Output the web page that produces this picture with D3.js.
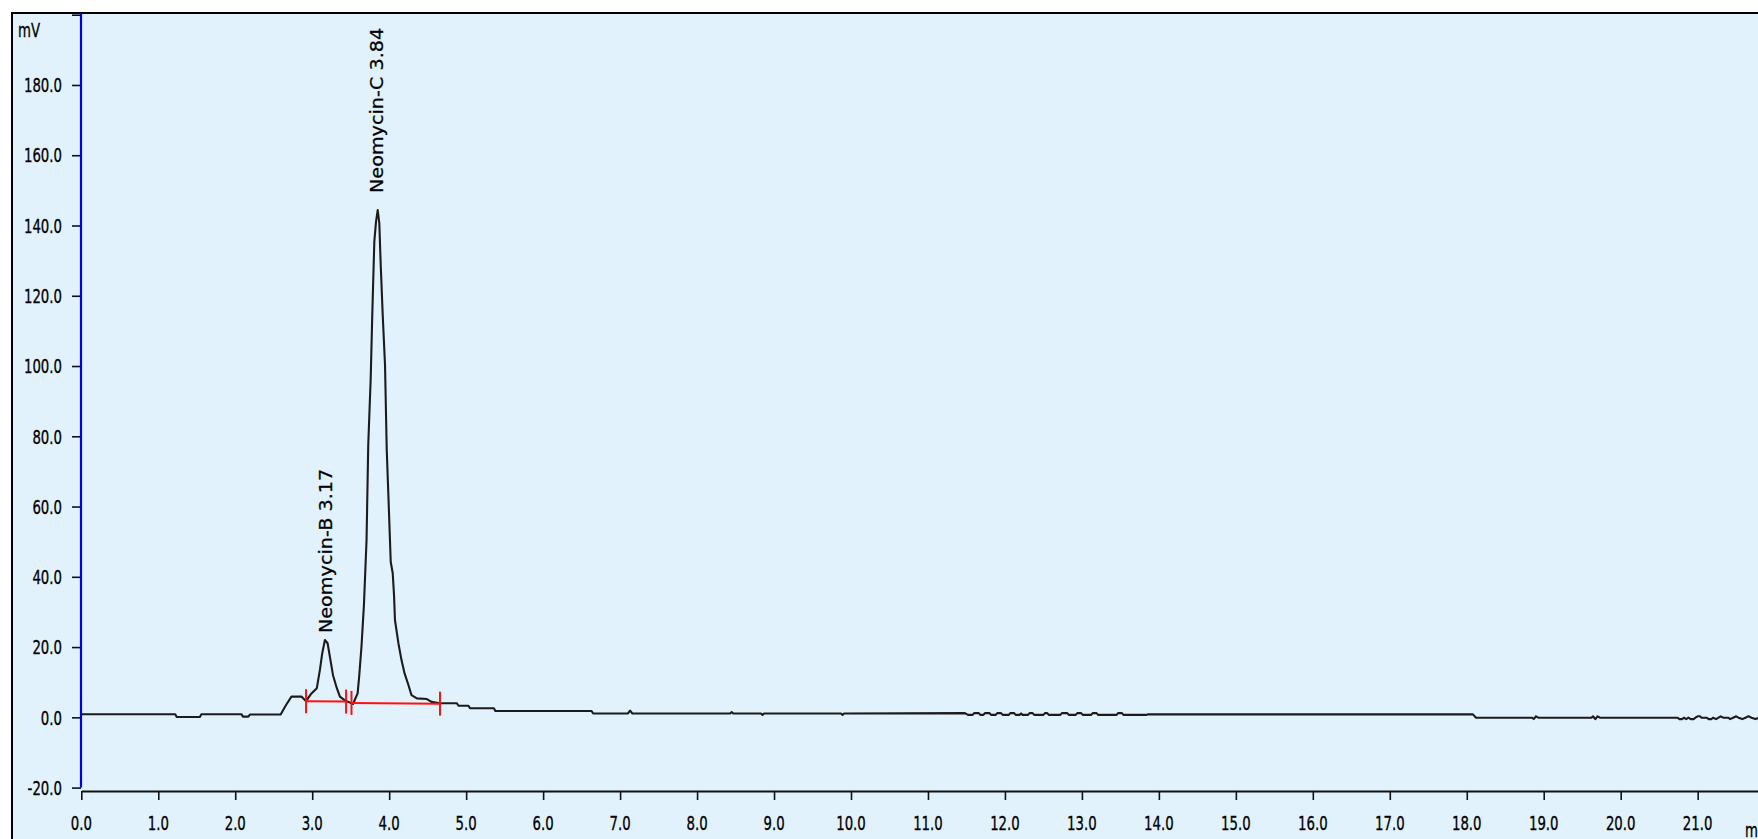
<!DOCTYPE html>
<html><head><meta charset="utf-8">
<script src="https://cdn.jsdelivr.net/npm/d3@7"></script>
<style>html,body{margin:0;padding:0;background:#fff;overflow:hidden}</style>
</head><body>
<svg id="c" width="1758" height="839"></svg>
<script>
// ---- data (retention time in min, signal in mV) ----
const times = [
 0.00,1.22,1.24,1.54,1.56,2.08,2.10,2.17,2.19,2.59,2.66,2.73,2.86,2.92,2.99,3.06,3.10,3.13,3.165,3.20,3.23,3.27,3.32,3.36,3.42,3.49,3.53,3.59,3.61,3.64,3.672,3.706,3.728,3.760,3.781,3.807,3.829,3.851,3.872,3.890,3.916,3.946,3.968,3.998,4.020,4.046,4.063,4.075,4.12,4.16,4.20,4.25,4.29,4.36,4.49,4.55,4.66,4.88,4.90,5.03,5.05,5.36,5.38,6.63,6.65,7.10,7.13,7.16,8.43,8.45,8.47,8.83,8.85,8.87,9.87,9.89,9.91,11.48,
 11.52,11.58,11.60,11.66,11.68,11.72,11.74,11.80,11.82,11.88,11.90,11.95,11.97,12.05,12.07,12.12,12.14,12.19,12.21,12.23,12.30,12.32,12.36,12.38,12.50,12.52,12.55,12.57,12.72,12.74,12.81,12.83,12.92,12.94,12.99,13.01,13.12,13.14,13.19,13.21,13.45,13.47,13.52,13.54,13.84,13.86,
 18.08,18.12,18.85,18.87,18.90,18.93,19.62,19.64,19.67,19.70,19.73,20.74,20.76,20.80,20.82,20.85,20.88,20.91,20.95,20.97,21.00,21.03,21.05,21.12,21.14,21.18,21.20,21.24,21.27,21.30,21.33,21.40,21.42,21.46,21.50,21.53,21.58,21.62,21.66,21.70,21.75,21.80,22.00
];
const values = [
 0.9,0.9,0.1,0.1,0.9,0.9,0.2,0.2,0.8,0.8,3.5,5.9,5.9,4.6,6.8,8.3,13.5,18.2,22.0,21.1,17.2,12.0,8.3,5.9,4.9,4.2,3.8,6.8,11.6,20.1,32.0,50.5,77.5,96.5,115.2,135.4,141.1,144.4,140.6,128.8,114.5,100.3,76.3,58.1,44.3,41.0,34.8,27.7,21.1,16.3,12.5,9.2,6.3,5.4,5.2,4.4,4.0,4.0,3.3,3.3,2.6,2.6,1.8,1.8,1.1,1.1,1.9,1.1,1.1,1.5,1.1,1.1,0.7,1.1,1.1,0.7,1.1,1.2,
 0.7,0.7,1.2,1.2,0.7,0.7,1.2,1.2,0.7,0.7,1.2,1.2,0.7,0.7,1.2,1.2,0.7,0.7,1.1,0.7,0.7,1.2,1.2,0.7,0.7,1.2,1.2,0.7,0.7,1.2,1.2,0.7,0.7,1.2,1.2,0.7,0.7,1.2,1.2,0.7,0.7,1.2,1.2,0.7,0.7,0.85,
 0.85,-0.1,-0.1,-0.5,0.3,-0.1,-0.1,0.3,-0.5,0.3,-0.1,-0.1,-0.5,-0.5,-0.1,-0.5,-0.1,-0.5,-0.5,-0.1,0.3,0.3,-0.1,-0.1,-0.5,-0.5,-0.1,-0.5,-0.1,0.3,-0.1,-0.1,-0.5,-0.1,0.3,-0.1,-0.5,-0.1,0.3,-0.1,-0.5,-0.1,-0.1
];
const yTicks = [-20,0,20,40,60,80,100,120,140,160,180,200];
const yTickLabels = ["-20.0","0.0","20.0","40.0","60.0","80.0","100.0","120.0","140.0","160.0","180.0",""];
const xTicks = [0,1,2,3,4,5,6,7,8,9,10,11,12,13,14,15,16,17,18,19,20,21];
const xTickLabels = ["0.0","1.0","2.0","3.0","4.0","5.0","6.0","7.0","8.0","9.0","10.0","11.0","12.0","13.0","14.0","15.0","16.0","17.0","18.0","19.0","20.0","21.0"];
const yUnit = "mV";
const xUnit = "min";
const peakNames = ["Neomycin-B","Neomycin-C"];
const peakTimes = [3.17, 3.84];
const peakHeights = [22.0, 144.4];
const integStartT = [2.92, 3.51];
const integEndT = [3.44, 4.66];
const integStartV = [4.6, 4.1];
const integEndV = [4.5, 3.9];

// ---- layout ----
const W = 1758, H = 839;
const labelGap = [7, 17];
const svg = d3.select("#c");
const x = d3.scaleLinear().domain([0, 22]).range([81.3, 81.3 + 22 * 76.97]);
const y = d3.scaleLinear().domain([-20, 200]).range([787.6, 14.7]);
const font = "'DejaVu Sans', Verdana, sans-serif";
const bg = "#e1f2fd";
const txt = sel => sel.attr("font-family", font).attr("fill", "#000")
  .attr("stroke", "#000").attr("stroke-width", 0.25);

// frame
svg.append("rect").attr("x", 12).attr("y", 13).attr("width", W).attr("height", H)
  .attr("fill", bg).attr("stroke", "#000").attr("stroke-width", 2);

// y axis ticks
const gy = svg.append("g").attr("transform", "translate(81,0)")
  .call(d3.axisLeft(y).tickValues(yTicks).tickSize(9).tickSizeOuter(0).tickFormat(""));
gy.select(".domain").remove();
gy.selectAll(".tick line").attr("stroke", "#111").attr("stroke-width", 1.6);
svg.append("line").attr("x1", 81).attr("x2", 81).attr("y1", 13).attr("y2", y(-20))
  .attr("stroke", "#0000d8").attr("stroke-width", 2.2);

svg.append("g").selectAll("text").data(yTicks.map((v, i) => [v, yTickLabels[i]]))
  .join("text")
  .attr("transform", d => `translate(62,${y(d[0])}) scale(0.95,1.42)`)
  .attr("dy", 5.1).attr("text-anchor", "end")
  .attr("font-size", 14).call(txt)
  .text(d => d[1]);

svg.append("text").attr("transform", "translate(18,37) scale(0.95,1.42)")
  .attr("font-size", 14).call(txt).text(yUnit);

// x axis
const gx = svg.append("g").attr("transform", "translate(0,791)")
  .call(d3.axisBottom(x).tickValues(xTicks).tickSize(9).tickSizeOuter(0).tickFormat(""));
gx.select(".domain").attr("stroke", "#111").attr("stroke-width", 2);
gx.selectAll(".tick line").attr("stroke", "#111").attr("stroke-width", 1.6);

svg.append("g").selectAll("text").data(xTicks.map((v, i) => [v, xTickLabels[i]]))
  .join("text")
  .attr("transform", d => `translate(${x(d[0])},830) scale(0.95,1.42)`)
  .attr("text-anchor", "middle")
  .attr("font-size", 14).call(txt)
  .text(d => d[1]);

svg.append("text").attr("transform", "translate(1745,837) scale(0.95,1.42)")
  .attr("font-size", 14).call(txt).text(xUnit);

// trace
const pts = times.map((t, i) => [t, values[i]]);
svg.append("path").datum(pts)
  .attr("d", d3.line().x(d => x(d[0])).y(d => y(d[1])))
  .attr("fill", "none").attr("stroke", "#1b1b1b").attr("stroke-width", 2.1)
  .attr("stroke-linejoin", "round");

// integration baselines
const gi = svg.append("g").attr("stroke", "#ff1010").attr("stroke-width", 2);
integStartT.forEach((t0, i) => {
  const t1 = integEndT[i];
  gi.append("line").attr("x1", x(t0)).attr("y1", y(integStartV[i]))
    .attr("x2", x(t1)).attr("y2", y(integEndV[i]));
  [[t0, integStartV[i]], [t1, integEndV[i]]].forEach(p => {
    gi.append("line").attr("x1", x(p[0])).attr("x2", x(p[0]))
      .attr("y1", y(p[1]) - 12).attr("y2", y(p[1]) + 12);
  });
});

// peak labels
svg.append("g").selectAll("text").data(peakNames.map((n, i) => i))
  .join("text")
  .attr("transform", i => `translate(${x(peakTimes[i]) + 6.5},${y(peakHeights[i]) - labelGap[i]}) scale(1,1.13) rotate(-90)`)
  .attr("font-size", 17).call(txt)
  .text(i => `${peakNames[i]} ${peakTimes[i].toFixed(2)}`);
</script>
</body></html>
